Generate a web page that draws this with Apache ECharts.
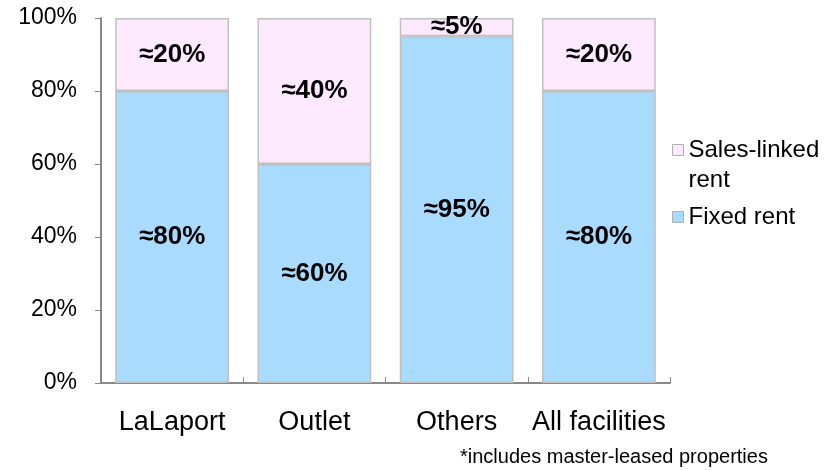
<!DOCTYPE html>
<html>
<head>
<meta charset="utf-8">
<script src="https://cdn.jsdelivr.net/npm/echarts@6/dist/echarts.min.js"></script>
<style>html,body{margin:0;padding:0;background:#fff}#c{width:836px;height:470px}</style>
</head>
<body>
<div id="c"></div>
<script>
var categories = ['LaLaport', 'Outlet', 'Others', 'All facilities'];
var fixedRent = [80, 60, 95, 80];
var salesLinked = [20, 40, 5, 20];
var yTicks = [0, 20, 40, 60, 80, 100];
var seriesNames = ['Fixed rent', 'Sales-linked rent'];
var footnote = '*includes master-leased properties';

var font = 'Liberation Sans, Arial, sans-serif';
var legendBase = {
  orient: 'vertical', left: 672, padding: 0, icon: 'rect',
  itemWidth: 11, itemHeight: 11, itemGap: 10,
  itemStyle: {borderColor: '#b0b0b0', borderWidth: 1}
};
var chart = echarts.init(document.getElementById('c'), null, {renderer: 'canvas'});
chart.setOption({
  animation: false,
  grid: {left: 101, right: 166, top: 18, bottom: 87, containLabel: false},
  legend: [
    Object.assign({}, legendBase, {
      top: 105, data: [seriesNames[1]],
      formatter: function () { return '{e| }\nSales-linked\nrent'; },
      textStyle: {fontFamily: font, fontSize: 24, color: '#000', lineHeight: 30,
        rich: {e: {fontSize: 24, lineHeight: 30}}}
    }),
    Object.assign({}, legendBase, {
      top: 202, data: [seriesNames[0]],
      textStyle: {fontFamily: font, fontSize: 24, color: '#000', lineHeight: 30}
    })
  ],
  xAxis: {
    type: 'category', data: categories,
    axisLine: {lineStyle: {color: '#888', width: 2}},
    axisTick: {show: true, inside: true, length: 6, interval: 0, lineStyle: {color: '#888', width: 1}},
    axisLabel: {fontFamily: font, fontSize: 27, color: '#000', margin: 26, interval: 0}
  },
  yAxis: {
    type: 'value', min: 0, max: 100, interval: 20,
    axisLine: {show: true, lineStyle: {color: '#888', width: 2}},
    axisTick: {show: true, length: 6, lineStyle: {color: '#888', width: 1}},
    splitLine: {show: false},
    axisLabel: {fontFamily: font, fontSize: 23, color: '#000', margin: 24, formatter: '{value}%'}
  },
  series: [
    {
      name: seriesNames[0], type: 'bar', stack: 's', data: fixedRent, barCategoryGap: '20%',
      itemStyle: {color: '#a8dbfd', borderColor: '#c0c0c0', borderWidth: 1.5},
      label: {show: true, position: 'inside', fontFamily: font, fontSize: 26, fontWeight: 'bold', color: '#000',
        formatter: function (p) { return '\u2248' + p.value + '%'; }}
    },
    {
      name: seriesNames[1], type: 'bar', stack: 's', data: salesLinked, barCategoryGap: '20%',
      itemStyle: {color: '#fde9fd', borderColor: '#c0c0c0', borderWidth: 1.5},
      label: {show: true, position: 'inside', fontFamily: font, fontSize: 26, fontWeight: 'bold', color: '#000',
        formatter: function (p) { return '\u2248' + p.value + '%'; }}
    }
  ],
  graphic: [{
    type: 'text', left: 460, top: 447,
    style: {text: footnote, fontFamily: font, fontSize: 20, fill: '#000'}
  }]
});
</script>
</body>
</html>
